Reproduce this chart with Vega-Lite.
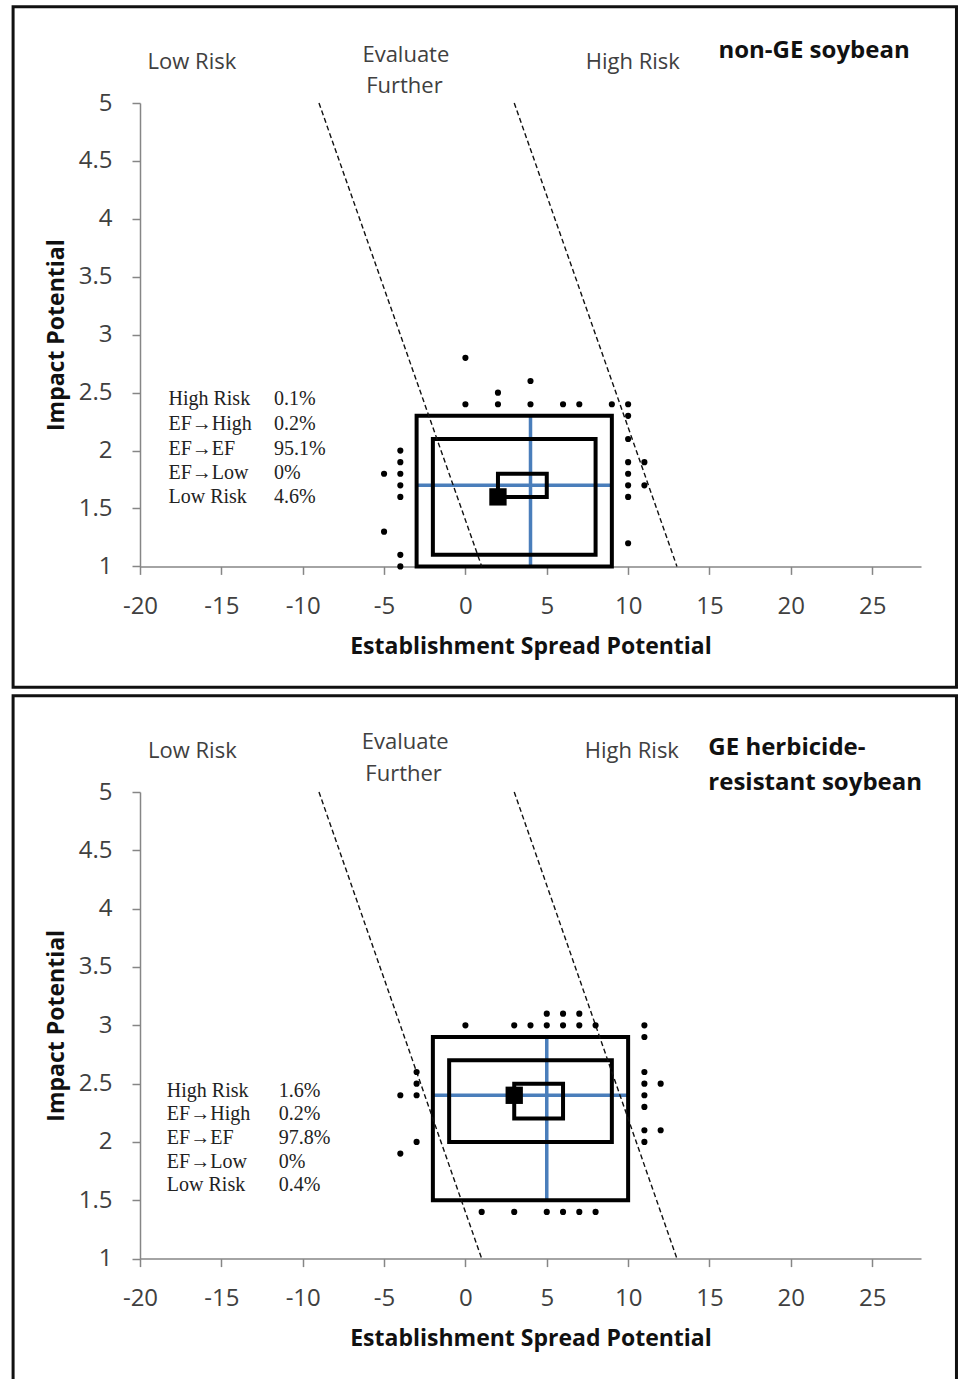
{
  "$schema": "https://vega.github.io/schema/vega-lite/v6.json",
  "background": "white",
  "padding": {"left": 11, "top": 5, "right": 0, "bottom": 0},
  "spacing": 5,
  "resolve": {"scale": {"x": "independent", "y": "independent"}},
  "config": {
    "view": {"stroke": null},
    "axis": {
      "grid": false,
      "labelFlush": false,
      "labelOverlap": false,
      "domainColor": "#868686",
      "domainWidth": 1.5,
      "tickColor": "#868686",
      "tickWidth": 1.5,
      "tickSize": 8,
      "labelFont": "Open Sans",
      "labelFontSize": 24,
      "labelColor": "#404040",
      "titleFont": "Open Sans",
      "titleFontSize": 23,
      "titleFontWeight": "bold",
      "titleColor": "#111111"
    }
  },
  "datasets": {
    "frame1": [{"x": -27.8, "x2": 30.18, "y": 5.831, "y2": -0.043}],
    "frame2": [{"x": -27.8, "x2": 30.18, "y": 5.825, "y2": -0.06}],
    "blue1": [
      {"x": 4, "x2": 4, "y": 1.0, "y2": 2.3},
      {"x": -3, "x2": 9, "y": 1.7, "y2": 1.7}
    ],
    "blue2": [
      {"x": 5, "x2": 5, "y": 1.5, "y2": 2.9},
      {"x": -2, "x2": 10, "y": 2.4, "y2": 2.4}
    ],
    "boxes1": [
      {"x": -3, "x2": 9, "y": 1.0, "y2": 2.3},
      {"x": -2, "x2": 8, "y": 1.1, "y2": 2.1},
      {"x": 2, "x2": 5, "y": 1.6, "y2": 1.8}
    ],
    "boxes2": [
      {"x": -2, "x2": 10, "y": 1.5, "y2": 2.9},
      {"x": -1, "x2": 9, "y": 2.0, "y2": 2.7},
      {"x": 3, "x2": 6, "y": 2.2, "y2": 2.5}
    ],
    "zones": [
      {"x": -9, "x2": 1, "y": 5, "y2": 1},
      {"x": 3, "x2": 13, "y": 5, "y2": 1}
    ],
    "dots1": [
      {"x": 0, "y": 2.8}, {"x": 4, "y": 2.6}, {"x": 2, "y": 2.5},
      {"x": 0, "y": 2.4}, {"x": 2, "y": 2.4}, {"x": 4, "y": 2.4}, {"x": 6, "y": 2.4}, {"x": 7, "y": 2.4}, {"x": 9, "y": 2.4}, {"x": 10, "y": 2.4},
      {"x": 10, "y": 2.3}, {"x": 10, "y": 2.1}, {"x": 10, "y": 1.9}, {"x": 10, "y": 1.8}, {"x": 10, "y": 1.7}, {"x": 10, "y": 1.6}, {"x": 10, "y": 1.2},
      {"x": 11, "y": 1.9}, {"x": 11, "y": 1.7},
      {"x": -4, "y": 2.0}, {"x": -4, "y": 1.9}, {"x": -4, "y": 1.8}, {"x": -4, "y": 1.7}, {"x": -4, "y": 1.6}, {"x": -4, "y": 1.1}, {"x": -4, "y": 1.0},
      {"x": -5, "y": 1.8}, {"x": -5, "y": 1.3}
    ],
    "dots2": [
      {"x": 5, "y": 3.1}, {"x": 6, "y": 3.1}, {"x": 7, "y": 3.1},
      {"x": 0, "y": 3.0}, {"x": 3, "y": 3.0}, {"x": 4, "y": 3.0}, {"x": 5, "y": 3.0}, {"x": 6, "y": 3.0}, {"x": 7, "y": 3.0}, {"x": 8, "y": 3.0}, {"x": 11, "y": 3.0},
      {"x": 11, "y": 2.9},
      {"x": 11, "y": 2.6}, {"x": 11, "y": 2.5}, {"x": 11, "y": 2.4}, {"x": 11, "y": 2.3}, {"x": 11, "y": 2.1}, {"x": 11, "y": 2.0},
      {"x": 12, "y": 2.5}, {"x": 12, "y": 2.1},
      {"x": -3, "y": 2.6}, {"x": -3, "y": 2.5}, {"x": -3, "y": 2.4}, {"x": -3, "y": 2.0},
      {"x": -4, "y": 2.4}, {"x": -4, "y": 1.9},
      {"x": 1, "y": 1.4}, {"x": 3, "y": 1.4}, {"x": 5, "y": 1.4}, {"x": 6, "y": 1.4}, {"x": 7, "y": 1.4}, {"x": 8, "y": 1.4}
    ],
    "square1": [{"x": 2, "y": 1.6}],
    "square2": [{"x": 3, "y": 2.4}],
    "zonelabels1": [
      {"x": -16.81, "y": 5.293, "label": "Low Risk"},
      {"x": -3.66, "y": 5.35, "label": "Evaluate"},
      {"x": -3.75, "y": 5.086, "label": "Further"},
      {"x": 10.29, "y": 5.293, "label": "High Risk"}
    ],
    "zonelabels2": [
      {"x": -16.78, "y": 5.289, "label": "Low Risk"},
      {"x": -3.7, "y": 5.366, "label": "Evaluate"},
      {"x": -3.8, "y": 5.095, "label": "Further"},
      {"x": 10.23, "y": 5.289, "label": "High Risk"}
    ],
    "title1": [{"x": 15.55, "y": 5.388, "label": "non-GE soybean"}],
    "title2": [
      {"x": 14.93, "y": 5.32, "label": "GE herbicide-"},
      {"x": 14.93, "y": 5.02, "label": "resistant  soybean"}
    ],
    "statnames1": [
      {"x": -18.25, "y": 2.396, "label": "High Risk"},
      {"x": -18.25, "y": 2.18, "label": "EF→High"},
      {"x": -18.25, "y": 1.964, "label": "EF→EF"},
      {"x": -18.25, "y": 1.754, "label": "EF→Low"},
      {"x": -18.25, "y": 1.547, "label": "Low Risk"}
    ],
    "statvalues1": [
      {"x": -11.77, "y": 2.396, "label": "0.1%"},
      {"x": -11.77, "y": 2.18, "label": "0.2%"},
      {"x": -11.77, "y": 1.964, "label": "95.1%"},
      {"x": -11.77, "y": 1.754, "label": "0%"},
      {"x": -11.77, "y": 1.547, "label": "4.6%"}
    ],
    "statnames2": [
      {"x": -18.35, "y": 2.385, "label": "High Risk"},
      {"x": -18.35, "y": 2.186, "label": "EF→High"},
      {"x": -18.35, "y": 1.98, "label": "EF→EF"},
      {"x": -18.35, "y": 1.78, "label": "EF→Low"},
      {"x": -18.35, "y": 1.58, "label": "Low Risk"}
    ],
    "statvalues2": [
      {"x": -11.48, "y": 2.385, "label": "1.6%"},
      {"x": -11.48, "y": 2.186, "label": "0.2%"},
      {"x": -11.48, "y": 1.98, "label": "97.8%"},
      {"x": -11.48, "y": 1.78, "label": "0%"},
      {"x": -11.48, "y": 1.58, "label": "0.4%"}
    ]
  },
  "vconcat": [
    {
      "width": 781,
      "height": 463.4,
      "encoding": {
        "x": {"field": "x", "type": "quantitative", "scale": {"domain": [-20, 28], "nice": false, "zero": false},
          "axis": {"values": [-20, -15, -10, -5, 0, 5, 10, 15, 20, 25], "labelExpr": "'' + datum.value", "labelPadding": 20, "title": "Establishment Spread Potential", "titlePadding": 17}},
        "y": {"field": "y", "type": "quantitative", "scale": {"domain": [1, 5], "nice": false, "zero": false},
          "axis": {"values": [1, 1.5, 2, 2.5, 3, 3.5, 4, 4.5, 5], "labelExpr": "'' + datum.value", "labelPadding": 20, "title": "Impact Potential", "titlePadding": 10}}
      },
      "layer": [
        {"data": {"name": "frame1"}, "mark": {"type": "rect", "fillOpacity": 0, "stroke": "#111111", "strokeWidth": 3}, "encoding": {"x2": {"field": "x2"}, "y2": {"field": "y2"}}},
        {"data": {"name": "blue1"}, "mark": {"type": "rule", "color": "#4A7EBB", "strokeWidth": 3.5}, "encoding": {"x2": {"field": "x2"}, "y2": {"field": "y2"}}},
        {"data": {"name": "boxes1"}, "mark": {"type": "rect", "fillOpacity": 0, "stroke": "#000000", "strokeWidth": 4}, "encoding": {"x2": {"field": "x2"}, "y2": {"field": "y2"}}},
        {"data": {"name": "zones"}, "mark": {"type": "rule", "color": "#111111", "strokeWidth": 1.4, "strokeDash": [5, 3]}, "encoding": {"x2": {"field": "x2"}, "y2": {"field": "y2"}}},
        {"data": {"name": "dots1"}, "mark": {"type": "circle", "color": "#000000", "opacity": 1, "size": 38}},
        {"data": {"name": "square1"}, "mark": {"type": "square", "color": "#000000", "opacity": 1, "size": 300}},
        {"data": {"name": "zonelabels1"}, "mark": {"type": "text", "font": "Open Sans", "fontSize": 22, "color": "#404040", "align": "center", "baseline": "alphabetic"}, "encoding": {"text": {"field": "label"}}},
        {"data": {"name": "title1"}, "mark": {"type": "text", "font": "Open Sans", "fontSize": 24, "fontWeight": "bold", "color": "#111111", "align": "left", "baseline": "alphabetic"}, "encoding": {"text": {"field": "label"}}},
        {"data": {"name": "statnames1"}, "mark": {"type": "text", "font": "Liberation Serif", "fontSize": 20, "color": "#222222", "align": "left", "baseline": "alphabetic"}, "encoding": {"text": {"field": "label"}}},
        {"data": {"name": "statvalues1"}, "mark": {"type": "text", "font": "Liberation Serif", "fontSize": 20, "color": "#222222", "align": "left", "baseline": "alphabetic"}, "encoding": {"text": {"field": "label"}}}
      ]
    },
    {
      "width": 781,
      "height": 466.6,
      "encoding": {
        "x": {"field": "x", "type": "quantitative", "scale": {"domain": [-20, 28], "nice": false, "zero": false},
          "axis": {"values": [-20, -15, -10, -5, 0, 5, 10, 15, 20, 25], "labelExpr": "'' + datum.value", "labelPadding": 20, "title": "Establishment Spread Potential", "titlePadding": 17}},
        "y": {"field": "y", "type": "quantitative", "scale": {"domain": [1, 5], "nice": false, "zero": false},
          "axis": {"values": [1, 1.5, 2, 2.5, 3, 3.5, 4, 4.5, 5], "labelExpr": "'' + datum.value", "labelPadding": 20, "title": "Impact Potential", "titlePadding": 10}}
      },
      "layer": [
        {"data": {"name": "frame2"}, "mark": {"type": "rect", "fillOpacity": 0, "stroke": "#111111", "strokeWidth": 3}, "encoding": {"x2": {"field": "x2"}, "y2": {"field": "y2"}}},
        {"data": {"name": "blue2"}, "mark": {"type": "rule", "color": "#4A7EBB", "strokeWidth": 3.5}, "encoding": {"x2": {"field": "x2"}, "y2": {"field": "y2"}}},
        {"data": {"name": "boxes2"}, "mark": {"type": "rect", "fillOpacity": 0, "stroke": "#000000", "strokeWidth": 4}, "encoding": {"x2": {"field": "x2"}, "y2": {"field": "y2"}}},
        {"data": {"name": "zones"}, "mark": {"type": "rule", "color": "#111111", "strokeWidth": 1.4, "strokeDash": [5, 3]}, "encoding": {"x2": {"field": "x2"}, "y2": {"field": "y2"}}},
        {"data": {"name": "dots2"}, "mark": {"type": "circle", "color": "#000000", "opacity": 1, "size": 38}},
        {"data": {"name": "square2"}, "mark": {"type": "square", "color": "#000000", "opacity": 1, "size": 300}},
        {"data": {"name": "zonelabels2"}, "mark": {"type": "text", "font": "Open Sans", "fontSize": 22, "color": "#404040", "align": "center", "baseline": "alphabetic"}, "encoding": {"text": {"field": "label"}}},
        {"data": {"name": "title2"}, "mark": {"type": "text", "font": "Open Sans", "fontSize": 24, "fontWeight": "bold", "color": "#111111", "align": "left", "baseline": "alphabetic"}, "encoding": {"text": {"field": "label"}}},
        {"data": {"name": "statnames2"}, "mark": {"type": "text", "font": "Liberation Serif", "fontSize": 20, "color": "#222222", "align": "left", "baseline": "alphabetic"}, "encoding": {"text": {"field": "label"}}},
        {"data": {"name": "statvalues2"}, "mark": {"type": "text", "font": "Liberation Serif", "fontSize": 20, "color": "#222222", "align": "left", "baseline": "alphabetic"}, "encoding": {"text": {"field": "label"}}}
      ]
    }
  ]
}
